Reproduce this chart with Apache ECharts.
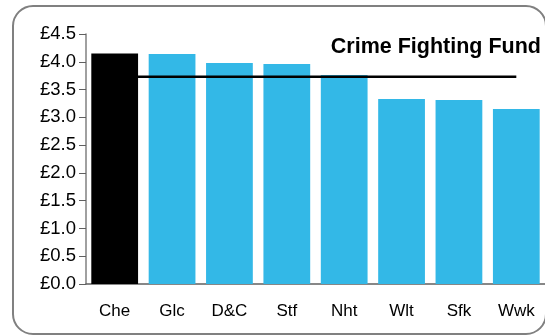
<!DOCTYPE html>
<html>
<head>
<meta charset="utf-8">
<script src="https://cdn.jsdelivr.net/npm/echarts@6/dist/echarts.min.js"></script>
<style>
html,body{margin:0;padding:0;background:#fff;}
#c{width:545px;height:336px;}
</style>
</head>
<body>
<div id="c"></div>
<script>
var categories = ['Che', 'Glc', 'D&C', 'Stf', 'Nht', 'Wlt', 'Sfk', 'Wwk'];
var fundValues = [4.15, 4.14, 3.98, 3.96, 3.76, 3.33, 3.31, 3.15];
var averageValues = [3.73, 3.73, 3.73, 3.73, 3.73, 3.73, 3.73, 3.73];
var highlightIndex = 0;
var titleText = 'Crime Fighting Fund';

var chart = echarts.init(document.getElementById('c'), null, {renderer: 'canvas'});
var font = 'Liberation Sans, Arial, sans-serif';
chart.setOption({
  animation: false,
  backgroundColor: '#fff',
  graphic: [{
    type: 'rect',
    z: -10,
    shape: {x: 13, y: 6, width: 533, height: 328, r: 20},
    style: {fill: '#fff', stroke: '#808080', lineWidth: 2}
  }],
  title: {
    text: titleText,
    right: -1,
    top: 31,
    textStyle: {fontFamily: font, fontSize: 21.5, fontWeight: 'bold', color: '#000'}
  },
  grid: {left: 86, right: -2, top: 34, bottom: 52, containLabel: false},
  xAxis: {
    type: 'category',
    data: categories,
    axisLine: {lineStyle: {color: '#606060', width: 1.5}},
    axisTick: {show: false},
    axisLabel: {fontFamily: font, fontSize: 17, color: '#000', margin: 19}
  },
  yAxis: {
    type: 'value',
    min: 0, max: 4.5, interval: 0.5,
    splitLine: {show: false},
    axisLine: {show: true, lineStyle: {color: '#808080', width: 1.5}},
    axisTick: {show: true, length: 7, lineStyle: {color: '#606060'}},
    axisLabel: {
      fontFamily: font, fontSize: 18.5, color: '#000', margin: 10,
      formatter: function (v) { return '£' + v.toFixed(1); }
    }
  },
  series: [{
    type: 'bar',
    data: fundValues.map(function (v, i) {
      return {value: v, itemStyle: {color: i === highlightIndex ? '#000' : '#33b8e7'}};
    }),
    barCategoryGap: '18.5%',
    z: 2
  }, {
    type: 'line',
    data: averageValues,
    symbol: 'none',
    lineStyle: {color: '#000', width: 2.5},
    z: 3
  }]
});
</script>
</body>
</html>
